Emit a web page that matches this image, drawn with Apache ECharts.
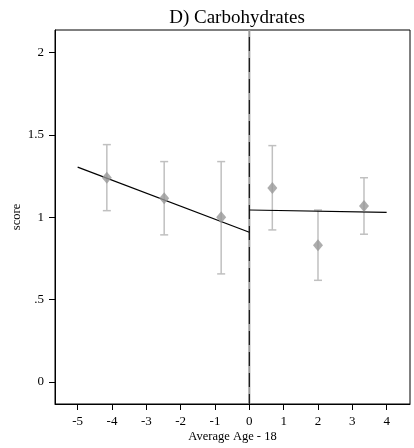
<!DOCTYPE html>
<html>
<head>
<meta charset="utf-8">
<script src="https://cdn.jsdelivr.net/npm/echarts@6/dist/echarts.min.js"></script>
<style>
html,body{margin:0;padding:0;background:#fff;}
#chart{width:414px;height:448px;}
</style>
</head>
<body>
<div id="chart"></div>
<script>
// Binned means with confidence intervals, by age relative to 18
const binX = [-4.15, -2.48, -0.82, 0.67, 2.0, 3.34];
const binMean = [1.24, 1.115, 1.0, 1.178, 0.83, 1.069];
const ciLow = [1.04, 0.893, 0.656, 0.923, 0.617, 0.897];
const ciHigh = [1.441, 1.338, 1.338, 1.435, 1.044, 1.24];

// Linear fits on each side of the cutoff
const fitLeft = [[-5, 1.304], [0, 0.909]];
const fitRight = [[0, 1.044], [4, 1.03]];

const xTicks = [-5, -4, -3, -2, -1, 0, 1, 2, 3, 4];
const yTicks = [0, 0.5, 1, 1.5, 2];

const FONT = 'Liberation Serif';
const Y_MIN = -0.134, Y_MAX = 2.137;
const chart = echarts.init(document.getElementById('chart'));

const errData = binX.map((x, i) => [x, ciLow[i], ciHigh[i]]);

chart.setOption({
  animation: false,
  title: {
    text: 'D) Carbohydrates',
    left: 232, top: 4, textAlign: 'center',
    textStyle: { fontFamily: FONT, fontSize: 19, fontWeight: 'normal', color: '#000' }
  },
  grid: {
    left: 55, right: 4, top: 30, bottom: 44,
    outerBoundsMode: 'none', containLabel: false,
    show: true, borderColor: '#000', borderWidth: 1
  },
  xAxis: {
    type: 'value', min: -5.66, max: 4.68,
    name: 'Average Age - 18', nameLocation: 'middle', nameGap: 26,
    nameMoveOverlap: false,
    nameTextStyle: { fontFamily: FONT, fontSize: 12.5, color: '#000' },
    axisLine: { show: true, onZero: false, lineStyle: { color: '#000' } },
    axisTick: { show: true, length: 6, customValues: xTicks, lineStyle: { color: '#000' } },
    axisLabel: { customValues: xTicks, fontFamily: FONT, fontSize: 13, color: '#000', margin: 11 },
    splitLine: { show: false }
  },
  yAxis: {
    type: 'value', min: Y_MIN, max: Y_MAX,
    name: 'score', nameLocation: 'middle', nameGap: 32, nameRotate: 90,
    nameMoveOverlap: false,
    nameTextStyle: { fontFamily: FONT, fontSize: 12.5, color: '#000' },
    axisLine: { show: true, onZero: false, lineStyle: { color: '#000' } },
    axisTick: { show: true, length: 6, customValues: yTicks, lineStyle: { color: '#000' } },
    axisLabel: {
      customValues: yTicks, fontFamily: FONT, fontSize: 13, color: '#000', margin: 11,
      formatter: v => (v === 0.5 ? '.5' : String(v))
    },
    splitLine: { show: false }
  },
  series: [
    {
      // cutoff marker at zero: grey rule with black dashes over it
      type: 'line', data: [[0, Y_MIN], [0, Y_MAX]], symbol: 'none', silent: true,
      lineStyle: { color: '#999', width: 2 }, z: 1
    },
    {
      type: 'line', data: [[0, Y_MIN], [0, Y_MAX]], symbol: 'none', silent: true,
      lineStyle: { color: '#000', width: 1, type: [14, 7], dashOffset: 4 }, z: 2
    },
    {
      type: 'custom',
      data: errData,
      z: 3,
      renderItem: function (params, api) {
        const x = api.value(0);
        const lo = api.coord([x, api.value(1)]);
        const hi = api.coord([x, api.value(2)]);
        const cap = 4;
        const style = { stroke: '#c0c0c0', lineWidth: 1.5 };
        return {
          type: 'group',
          children: [
            { type: 'line', shape: { x1: lo[0], y1: lo[1], x2: hi[0], y2: hi[1] }, style },
            { type: 'line', shape: { x1: lo[0] - cap, y1: lo[1], x2: lo[0] + cap, y2: lo[1] }, style },
            { type: 'line', shape: { x1: hi[0] - cap, y1: hi[1], x2: hi[0] + cap, y2: hi[1] }, style }
          ]
        };
      }
    },
    {
      type: 'line', data: fitLeft, symbol: 'none', z: 4,
      lineStyle: { color: '#000', width: 1.2 }
    },
    {
      type: 'line', data: fitRight, symbol: 'none', z: 4,
      lineStyle: { color: '#000', width: 1.2 }
    },
    {
      type: 'scatter', z: 5,
      data: binX.map((x, i) => [x, binMean[i]]),
      symbol: 'diamond', symbolSize: [10, 12],
      itemStyle: { color: '#999999' }
    }
  ]
});
</script>
</body>
</html>
